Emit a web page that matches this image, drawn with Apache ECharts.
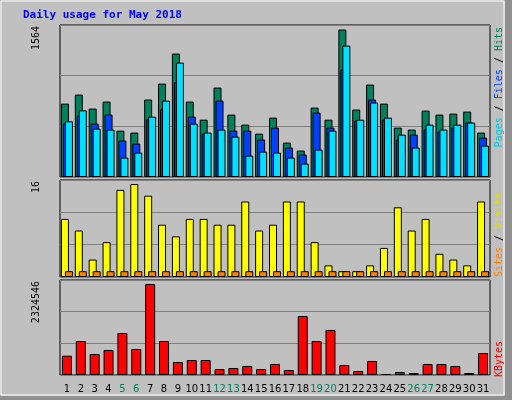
<!DOCTYPE html>
<html><head><meta charset="utf-8">
<script src="https://cdn.jsdelivr.net/npm/echarts@6/dist/echarts.min.js"></script>
<style>html,body{margin:0;padding:0;background:#C0C0C0}#c{width:512px;height:400px}</style>
</head><body><div id="c"></div>
<script>
const days = ['1','2','3','4','5','6','7','8','9','10','11','12','13','14','15','16','17','18','19','20','21','22','23','24','25','26','27','28','29','30','31'];
const weekends = ['5','6','12','13','19','20','26','27'];
const hits  = [755,848,704,776,477,457,797,961,1270,776,590,920,642,539,446,611,354,272,714,590,1517,694,951,755,508,488,683,642,652,673,457];
const files = [553,632,549,642,375,344,594,697,974,621,446,786,477,477,385,508,303,231,663,508,1105,580,797,590,385,436,488,467,508,560,405];
const pages = [573,686,498,488,200,251,621,786,1177,549,457,488,415,220,261,251,200,138,282,477,1352,590,766,611,436,303,539,488,539,560,323];
const visits = [10,8,3,6,15,16,14,9,7,10,10,9,9,13,8,9,13,13,6,2,1,1,2,5,12,8,10,4,3,2,13];
const sites  = [1,1,1,1,1,1,1,1,1,1,1,1,1,1,1,1,1,1,1,1,1,1,1,1,1,1,1,1,1,1,1];
const kbytes = [493000,868000,536000,639000,1073000,664000,2324546,868000,332000,383000,383000,153000,179000,230000,153000,281000,128000,1507000,868000,1150000,255000,102000,358000,26000,77000,51000,281000,281000,230000,51000,562000];
const maxLabels = ['1564','16','2324546'];

const mono = 'DejaVu Sans Mono';
const L=60, R=22;
const grids = [
  {left:L,right:R,top:25,height:152},
  {left:L,right:R,top:180,height:97},
  {left:L,right:R,top:280,height:95}
].map(g=>Object.assign(g,{show:true,backgroundColor:'#C0C0C0',borderColor:'#000',borderWidth:1}));
const maxes = [1564,16.7,2426000];
function xa(i,show){return {type:'category',gridIndex:i,data:days,axisLine:{show:false},axisTick:{show:false},
  axisLabel:{show:show,interval:0,fontFamily:'DejaVu Sans',fontSize:10,margin:9,color:(v)=>weekends.includes(v)?'#00805C':'#000'}};}
function ya(i){return {type:'value',gridIndex:i,min:0,max:maxes[i],interval:maxes[i]/3,axisLabel:{show:false},
  axisLine:{show:false},axisTick:{show:false},splitLine:{show:true,lineStyle:{color:'#808080',width:1}}};}
const bs = {borderColor:'#000',borderWidth:1};
const series = [
  {type:'bar',xAxisIndex:0,yAxisIndex:0,data:hits,barWidth:8,barGap:'-75%',itemStyle:Object.assign({color:'#00805C'},bs)},
  {type:'bar',xAxisIndex:0,yAxisIndex:0,data:files,barWidth:8,barGap:'-75%',itemStyle:Object.assign({color:'#0040FF'},bs)},
  {type:'bar',xAxisIndex:0,yAxisIndex:0,data:pages,barWidth:8,barGap:'-75%',itemStyle:Object.assign({color:'#00E0FF'},bs)},
  {type:'bar',xAxisIndex:1,yAxisIndex:1,data:visits,barWidth:8,barGap:'-50%',itemStyle:Object.assign({color:'#FFFF00'},bs)},
  {type:'bar',xAxisIndex:1,yAxisIndex:1,data:sites,barWidth:8,barGap:'-50%',itemStyle:Object.assign({color:'#FF8000'},bs)},
  {type:'bar',xAxisIndex:2,yAxisIndex:2,data:kbytes,barWidth:10,itemStyle:Object.assign({color:'#FF0000'},bs)}
];
function vtext(x,y,align,rich,text){
  return {type:'text',x:x,y:y,rotation:Math.PI/2,style:{text:text,fill:'#000',font:'10px '+mono,align:align,verticalAlign:'middle',rich:rich}};
}
const rich={h:{fill:'#00805C',font:'10px '+mono},f:{fill:'#0040FF',font:'10px '+mono},p:{fill:'#00C8E0',font:'10px '+mono},
  v:{fill:'#E0E000',font:'10px '+mono},s:{fill:'#FF8000',font:'10px '+mono},k:{fill:'#FF0000',font:'10px '+mono}};
const chart = echarts.init(document.getElementById('c'));
chart.setOption({
  backgroundColor:'#C0C0C0',animation:false,
  title:{text:'Daily usage for May 2018',left:18,top:5,textStyle:{fontFamily:mono,fontSize:11,fontWeight:'bold',color:'#0000FF'}},
  grid:grids,xAxis:[xa(0,false),xa(1,false),xa(2,true)],yAxis:[ya(0),ya(1),ya(2)],series:series,
  graphic:[
    {type:'rect',shape:{x:505,y:0,width:7,height:400},style:{fill:'#909090'}},
    {type:'rect',shape:{x:0,y:396,width:512,height:4},style:{fill:'#909090'}},
    {type:'rect',shape:{x:1,y:1,width:503,height:394},style:{fill:'none',stroke:'#fff',lineWidth:1}},
    vtext(36,26,'right',null,maxLabels[0]),
    vtext(36,181,'right',null,maxLabels[1]),
    vtext(36,281,'right',null,maxLabels[2]),
    vtext(499,27,'right',rich,'{p|Pages} / {f|Files} / {h|Hits}'),
    vtext(499,277,'left',rich,'{s|Sites} / {v|Visits}'),
    vtext(499,377,'left',rich,'{k|KBytes}')
  ]
});
</script></body></html>
